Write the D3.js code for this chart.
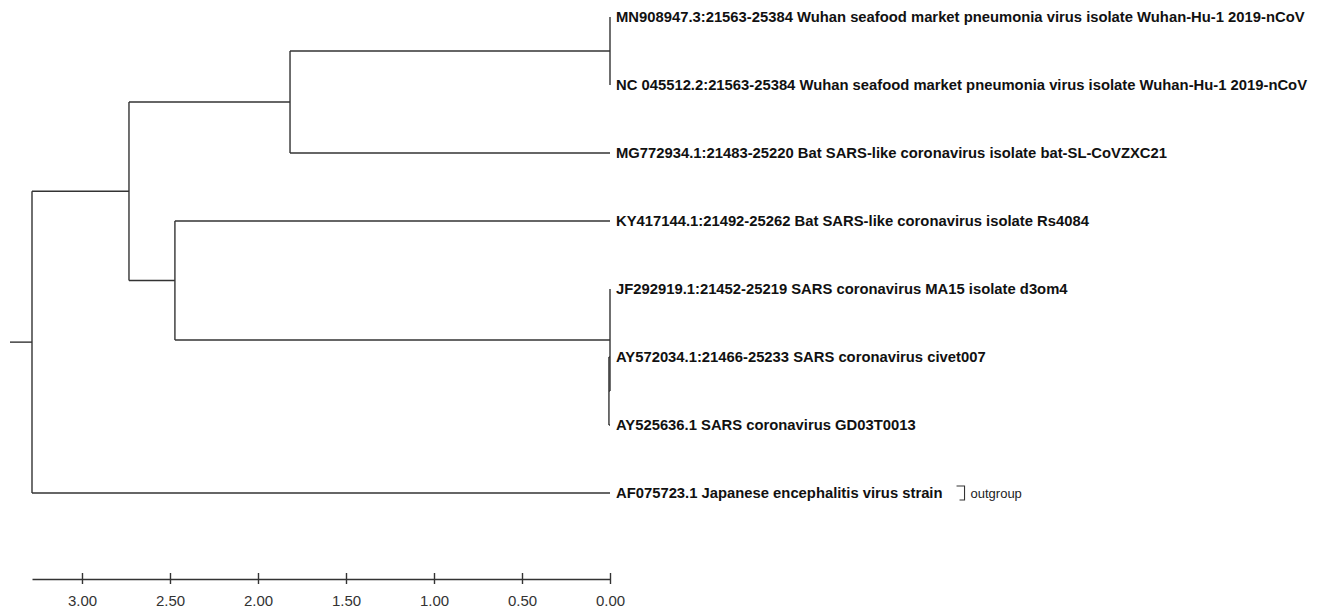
<!DOCTYPE html>
<html>
<head>
<meta charset="utf-8">
<script src="https://cdn.jsdelivr.net/npm/d3@7"></script>
<style>
  html, body { margin: 0; padding: 0; background: #fff; }
  svg { display: block; }
  .leaf { font-family: "Liberation Sans", Arial, sans-serif; font-weight: bold; font-size: 14.8px; fill: #111; }
  .note { font-family: "Liberation Sans", Arial, sans-serif; font-size: 13px; fill: #222; }
  .axis text { font-family: "Liberation Sans", Arial, sans-serif; font-size: 15px; fill: #333; }
</style>
</head>
<body>
<svg id="chart" width="1318" height="608"></svg>
<script>
// ---- Data ----
const leafLabels = [
  "MN908947.3:21563-25384 Wuhan seafood market pneumonia virus isolate Wuhan-Hu-1 2019-nCoV",
  "NC 045512.2:21563-25384 Wuhan seafood market pneumonia virus isolate Wuhan-Hu-1 2019-nCoV",
  "MG772934.1:21483-25220 Bat SARS-like coronavirus isolate bat-SL-CoVZXC21",
  "KY417144.1:21492-25262 Bat SARS-like coronavirus isolate Rs4084",
  "JF292919.1:21452-25219 SARS coronavirus MA15 isolate d3om4",
  "AY572034.1:21466-25233 SARS coronavirus civet007",
  "AY525636.1 SARS coronavirus GD03T0013",
  "AF075723.1 Japanese encephalitis virus strain"
];
const leafHeights = [0, 0, 0, 0, 0, 0, 0, 0];

// internal clades: name, children (clade names or leaf indices), node height (distance units)
const cladeNames    = ["root", "ingroup", "nCoVGroup", "nCoV", "sarsGroup", "sars", "civetGD"];
const cladeChildren = [["ingroup", 7], ["nCoVGroup", "sarsGroup"], ["nCoV", 2], [0, 1], [3, "sars"], [4, "civetGD"], [5, 6]];
const cladeHeights  = [3.284, 2.733, 1.818, 0.0, 2.472, 0.0, 0.006];
const rootStub = 0.125;

const axisTicks = [3.0, 2.5, 2.0, 1.5, 1.0, 0.5, 0.0];
const outgroupNote = "outgroup";

// ---- Build hierarchy ----
function build(ref) {
  if (typeof ref === "number") return { name: leafLabels[ref], height: leafHeights[ref], leafIndex: ref };
  const i = cladeNames.indexOf(ref);
  return { name: ref, height: cladeHeights[i], children: cladeChildren[i].map(build) };
}
const root = d3.hierarchy(build("root"));

const svg = d3.select("#chart");
const x = d3.scaleLinear().domain([cladeHeights[0], 0]).range([32, 610]);
const y = d3.scaleLinear().domain([0, leafLabels.length - 1]).range([17, 493]);

// positions
root.eachAfter(n => {
  n.px = x(n.data.height);
  if (n.children) {
    n.py = (n.children[0].py + n.children[n.children.length - 1].py) / 2;
  } else {
    n.py = y(n.data.leafIndex);
  }
});

const g = svg.append("g");
const lineStyle = s => s.attr("stroke", "#333").attr("stroke-width", 1.4).attr("fill", "none");

// root stub
g.append("line").call(lineStyle)
  .attr("x1", x(cladeHeights[0] + rootStub)).attr("x2", root.px)
  .attr("y1", root.py).attr("y2", root.py);

root.descendants().filter(n => n.children).forEach(n => {
  const first = n.children[0], last = n.children[n.children.length - 1];
  g.append("line").call(lineStyle)
    .attr("x1", n.px).attr("x2", n.px)
    .attr("y1", first.py).attr("y2", last.py);
  n.children.forEach(c => {
    g.append("line").call(lineStyle)
      .attr("x1", n.px).attr("x2", c.px)
      .attr("y1", c.py).attr("y2", c.py);
  });
});

// leaf labels
const leaves = root.leaves();
g.selectAll("text.leaf").data(leaves).join("text")
  .attr("class", "leaf")
  .attr("x", d => d.px + 6)
  .attr("y", d => d.py)
  .attr("dy", "0.36em")
  .text(d => d.data.name);

// outgroup bracket
const og = leaves.find(d => d.data.leafIndex === 7);
const ogText = g.selectAll("text.leaf").filter(d => d === og).node();
const ogEnd = og.px + 6 + ogText.getComputedTextLength();
const bx = ogEnd + 22;
g.append("path").call(lineStyle).attr("stroke-width", 1.1)
  .attr("d", `M${bx - 8},${og.py - 7}H${bx}V${og.py + 7}H${bx - 5}`);
g.append("text").attr("class", "note")
  .attr("x", bx + 6).attr("y", og.py).attr("dy", "0.36em")
  .text(outgroupNote);

// scale axis
const axis = d3.axisBottom(x).tickValues(axisTicks).tickFormat(d3.format(".2f"))
  .tickSizeInner(6).tickSizeOuter(0).tickPadding(10);
const ag = svg.append("g").attr("class", "axis").attr("transform", "translate(0,579)").call(axis);
ag.select(".domain").attr("stroke", "#333").attr("stroke-width", 1.4);
ag.selectAll(".tick line").attr("y1", -6).attr("y2", 5).attr("stroke", "#333").attr("stroke-width", 1.4);
ag.selectAll(".tick text").attr("fill", "#333");
</script>
</body>
</html>
